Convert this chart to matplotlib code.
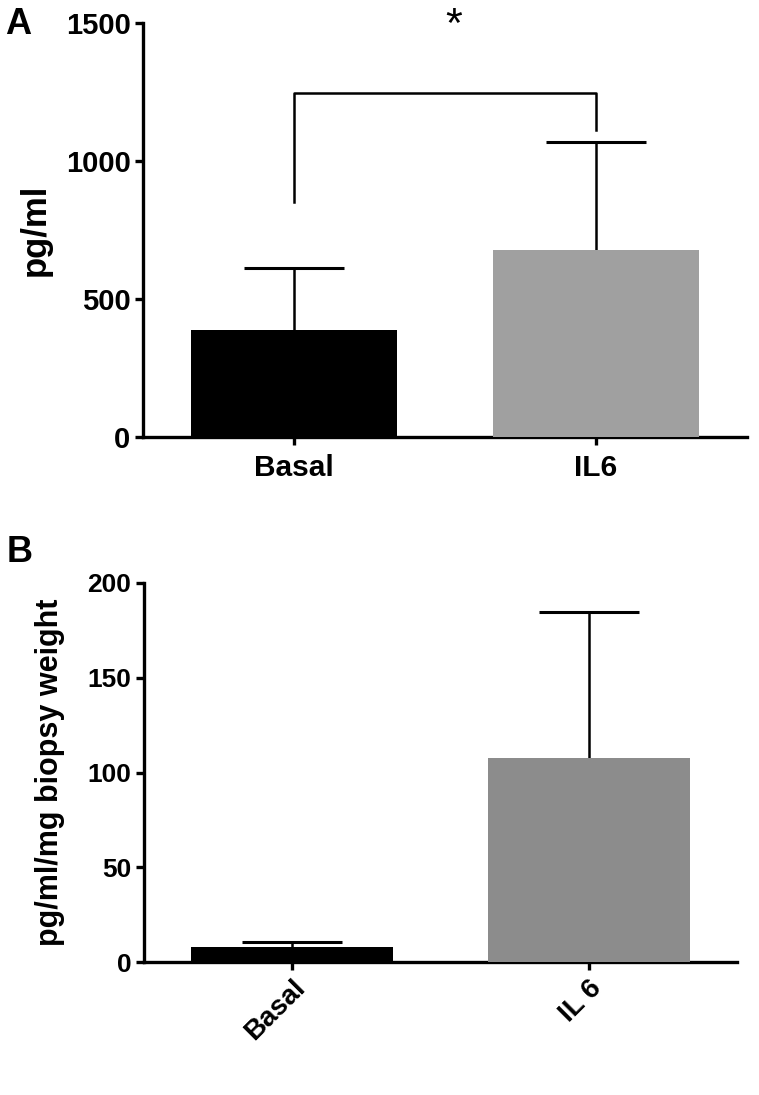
#!/usr/bin/env python3
"""Two-panel bar chart: cytokine release, Basal vs IL6 (A: pg/ml, B: per mg biopsy)."""
import matplotlib as mpl
import matplotlib.pyplot as plt

mpl.rcParams.update({
    "font.family": ["Liberation Sans", "DejaVu Sans"],
    "font.weight": "bold",
    "axes.linewidth": 2.4,
})

# ── data
groups_a = ["Basal", "IL6"]
means_a = [388, 678]
sem_a = [225, 392]

groups_b = ["Basal", "IL 6"]
means_b = [8, 107.5]
sem_b = [2.5, 77]

colors_a = ["#000000", "#a0a0a0"]
colors_b = ["#000000", "#8c8c8c"]

# significance bracket (panel A)
bracket_y = 1248
bracket_legs = [852, 1113]
star_text = "*"

W, H = 759, 1095


def _style(ax, ymax, step, fs):
    ax.spines["top"].set_visible(False)
    ax.spines["right"].set_visible(False)
    ax.set_xlim(-0.5, 1.5)
    ax.set_ylim(0, ymax)
    ax.set_yticks(range(0, ymax + 1, step))
    ax.tick_params(axis="both", width=2.4, length=6, labelsize=fs)
    ax.tick_params(axis="y", pad=3)
    for lab in ax.get_yticklabels():
        lab.set_fontweight("bold")


def _bars(ax, labels, means, errs, colors):
    x = range(len(labels))
    ax.bar(x, means, width=0.68, color=colors, zorder=3)
    # symmetric bars drawn underneath: the lower half is hidden by the bar
    ax.errorbar(x, means, yerr=errs, fmt="none",
                ecolor="black", elinewidth=1.8, capsize=36, capthick=2.2,
                zorder=2)
    ax.set_xticks(list(x))


fig = plt.figure(figsize=(W / 100, H / 100), dpi=100)

# ── Panel A
axA = fig.add_axes([143 / W, 1 - 437 / H, (747 - 143) / W, (437 - 23) / H])
_bars(axA, groups_a, means_a, sem_a, colors_a)
_style(axA, 1500, 500, 21)
axA.set_xticklabels(groups_a, fontsize=21.5, fontweight="bold")
axA.tick_params(axis="x", pad=6)
axA.set_ylabel("pg/ml", fontsize=25, fontweight="bold", labelpad=10)
axA.plot([0, 0, 1, 1], [bracket_legs[0], bracket_y, bracket_y, bracket_legs[1]],
         color="black", lw=1.8, clip_on=False, zorder=4)
axA.text(0.53, 1490, star_text, ha="center", va="center", fontsize=31,
         fontweight="normal", clip_on=False)

# ── Panel B
axB = fig.add_axes([144 / W, 1 - 962 / H, (737 - 144) / W, (962 - 583) / H])
_bars(axB, groups_b, means_b, sem_b, colors_b)
_style(axB, 200, 50, 19)
axB.set_xticklabels(groups_b, fontsize=20, fontweight="bold", rotation=45,
                    ha="right", rotation_mode="anchor")
axB.set_ylabel("pg/ml/mg biopsy weight", fontsize=22, fontweight="bold",
               labelpad=16)

fig.text(5 / W, 1 - 34 / H, "A", fontsize=26, fontweight="bold", va="baseline")
fig.text(7 / W, 1 - 562 / H, "B", fontsize=26, fontweight="bold", va="baseline")

fig.savefig("out.png", dpi=100)
